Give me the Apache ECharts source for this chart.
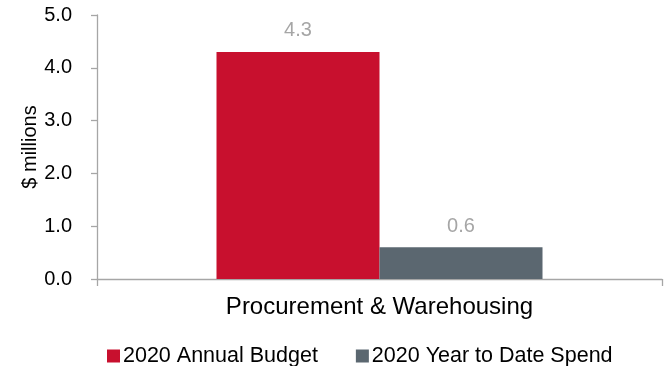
<!DOCTYPE html>
<html><head><meta charset="utf-8">
<script src="https://cdn.jsdelivr.net/npm/echarts@6/dist/echarts.min.js"></script>
<style>html,body{margin:0;padding:0;background:#fff}#c{width:668px;height:366px}</style>
</head><body><div id="c"></div>
<script>
const categories = ['Procurement & Warehousing'];
const seriesNames = ['2020 Annual Budget', '2020 Year to Date Spend'];
const budget = [4.3];
const ytdSpend = [0.6];
const seriesColors = ['#C8102E', '#5B6770'];
const F = 'Arial, "Liberation Sans", sans-serif';
const chart = echarts.init(document.getElementById('c'));
chart.setOption({
  animation: false,
  grid: { left: 97, right: 6, top: 15, bottom: 87, containLabel: false },
  legend: {
    top: 345, left: 107, itemWidth: 13, itemHeight: 13, itemGap: 38, padding: 0,
    icon: 'rect', textStyle: { fontFamily: F, fontSize: 21.5, color: '#000', padding: [0, 0, 0, -2] },
    data: seriesNames
  },
  xAxis: {
    type: 'category', data: categories,
    axisLine: { lineStyle: { color: '#a6a6a6', width: 1.3 } },
    axisTick: { show: true, length: 7, lineStyle: { color: '#a6a6a6', width: 1.3 } },
    axisLabel: { fontFamily: F, fontSize: 24, color: '#000', margin: 16 }
  },
  yAxis: {
    type: 'value', min: 0, max: 5, interval: 1,
    name: '$ millions', nameLocation: 'middle', nameGap: 57, nameMoveOverlap: false,
    nameTextStyle: { fontFamily: F, fontSize: 20, color: '#000' },
    axisLine: { show: true, lineStyle: { color: '#a6a6a6', width: 1.3 } },
    axisTick: { show: true, length: 6, lineStyle: { color: '#a6a6a6', width: 1.3 } },
    splitLine: { show: false },
    axisLabel: { fontFamily: F, fontSize: 20, color: '#000', margin: 25,
      formatter: v => v.toFixed(1) }
  },
  series: [
    { name: seriesNames[0], type: 'bar', data: budget, barWidth: 163, barGap: '0%',
      itemStyle: { color: seriesColors[0] },
      label: { show: true, position: 'top', distance: 11, fontFamily: F, fontSize: 20, color: '#a6a6a6', formatter: p => p.value.toFixed(1) } },
    { name: seriesNames[1], type: 'bar', data: ytdSpend, barWidth: 163, barGap: '0%',
      itemStyle: { color: seriesColors[1] },
      label: { show: true, position: 'top', distance: 11, fontFamily: F, fontSize: 20, color: '#a6a6a6', formatter: p => p.value.toFixed(1) } }
  ]
});
</script></body></html>
